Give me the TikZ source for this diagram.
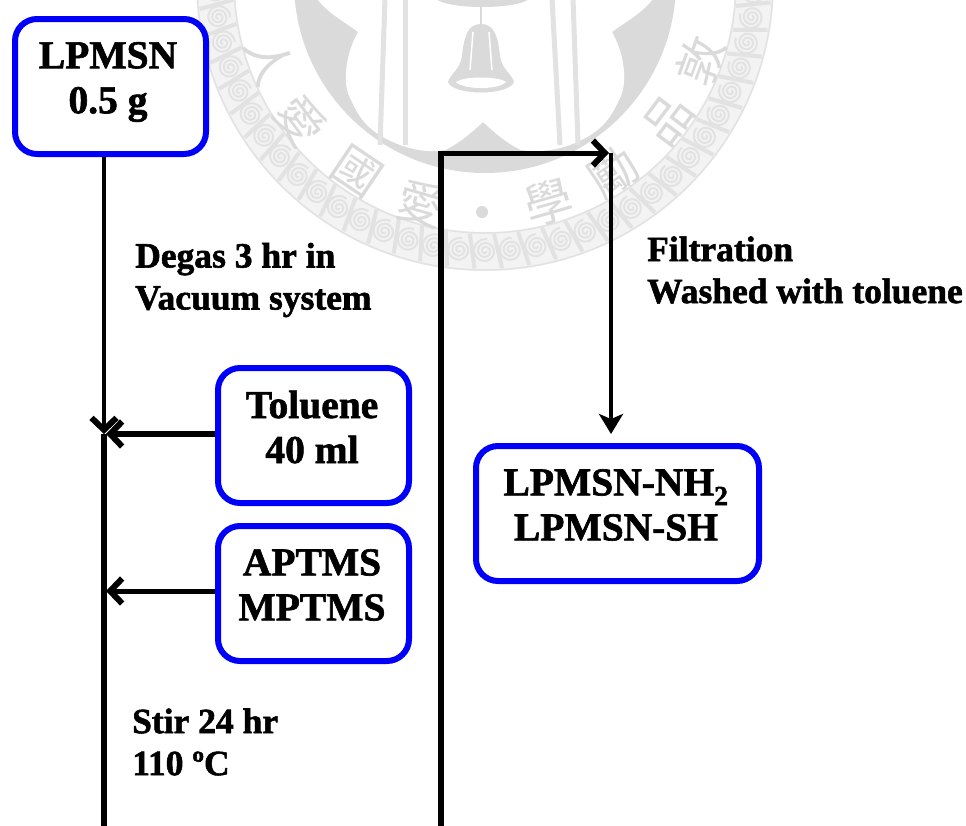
\documentclass[tikz,border=0pt]{standalone}
\usepackage{fontspec}
\setmainfont{Liberation Serif}[BoldFeatures={FakeBold=1.6}]
\newfontfamily\cjkfont{Noto Sans CJK TC}
\usetikzlibrary{arrows.meta,calc}
\definecolor{boxblue}{RGB}{0,0,250}
\definecolor{wmdark}{RGB}{218,218,218}
\definecolor{wmmid}{RGB}{226,226,226}
\definecolor{wmlight}{RGB}{243,243,243}
\tikzset{
  x=1pt,y=-1pt,
  boxnode/.style={draw=boxblue,line width=6pt,rounded corners=22pt,fill=white,minimum width=191pt,minimum height=135pt,inner sep=0pt,anchor=north west},
  boxtext/.style={font=\fontsize{39.5}{45}\selectfont\bfseries,align=center,inner sep=0pt,text=black},
  note/.style={font=\fontsize{35.5}{42}\selectfont\bfseries,align=left,inner sep=0pt,anchor=west,text=black},
  flow/.style={draw=black,line width=6pt,line cap=butt},
  flowtip/.style={flow,-{Straight Barb[length=12pt,width=25pt,line width=6pt]}},
  sealchar/.style={font=\fontsize{48}{48}\selectfont\cjkfont,text=wmdark,inner sep=0pt},
}
\newcommand{\sealspiral}[1]{%
  \begin{scope}[shift={({485+269*sin(#1)},{-18+269*cos(#1)})},rotate=#1]
    \draw[wmmid,line width=2pt] plot[domain=0:1000,samples=70,smooth] ({(1+\x/1000*11)*cos(\x)},{(1+\x/1000*11)*sin(\x)});
    \draw[wmmid,line width=4pt] (9,-17) -- (17,17);
  \end{scope}}
\begin{document}
\begin{tikzpicture}
\useasboundingbox (0,0) rectangle (966,825);
\fill[white] (0,0) rectangle (966,825);
\begin{scope}
  \clip (0,0) rectangle (966,825);
  % watermark seal
  \fill[wmlight,even odd rule] (485,-18) circle[radius=289] (485,-18) circle[radius=250];
  \foreach \t in {-99,-93.5,...,100}{\sealspiral{\t}}
  \draw[wmmid,line width=1.5pt] (485,-18) circle[radius=288];
  \draw[wmmid,line width=1.5pt] (485,-18) circle[radius=251];
  \fill[wmdark] (485,-18) circle[radius=191];
  \fill[white] (316,-2) .. controls (330,15) and (345,22) .. (358,32)
     .. controls (345,55) and (342,85) .. (351,100)
     .. controls (362,125) and (375,135) .. (400,145)
     .. controls (420,152) and (435,152) .. (445,150)
     .. controls (460,143) and (472,132) .. (483,122)
     .. controls (494,132) and (506,143) .. (521,150)
     .. controls (531,152) and (550,152) .. (570,145)
     .. controls (595,135) and (608,125) .. (619,100)
     .. controls (628,85) and (625,55) .. (612,32)
     .. controls (625,22) and (640,15) .. (654,-2) -- cycle;
  % poles
  \foreach \a/\b in {385/380,405/405,552/560,573/578}{
    \draw[wmmid,line width=5pt] (\a,-2) -- (\b,145);
  }
  % top ornament and bell
  \fill[wmdark] (435,-2) .. controls (445,10) and (520,10) .. (530,-2) -- cycle;
  \draw[wmdark,line width=2pt] (481,5) -- (481,24);
  \fill[wmdark] (481,24) .. controls (468,24) and (464,36) .. (462,56)
     .. controls (460,70) and (450,74) .. (448,82)
     .. controls (453,96) and (509,96) .. (514,82)
     .. controls (512,74) and (502,70) .. (500,56)
     .. controls (498,36) and (494,24) .. (481,24) -- cycle;
  \fill[white] (456,82) .. controls (463,90) and (499,90) .. (506,82) .. controls (498,76) and (464,76) .. (456,82) -- cycle;
  \draw[white,line width=1.5pt] (473,32) -- (470,70) (489,32) -- (492,70);
  % motto
  \node[sealchar,rotate=-70] (c1) at ({485+229*sin(-70)},{-18+229*cos(-70)}) {人};
  \node[sealchar,rotate=-53] (c2) at ({485+231*sin(-53)},{-18+231*cos(-53)}) {愛};
  \node[sealchar,rotate=-34] (c3) at ({485+229*sin(-34)},{-18+229*cos(-34)}) {國};
  \node[sealchar,rotate=-16] (c4) at ({485+231*sin(-16)},{-18+231*cos(-16)}) {愛};
  \fill[wmdark] (482,212) circle[radius=6];
  \node[sealchar,rotate=16] (c5) at ({485+229*sin(16)},{-18+229*cos(16)}) {學};
  \node[sealchar,rotate=34] (c6) at ({485+229*sin(34)},{-18+229*cos(34)}) {勵};
  \node[sealchar,rotate=53] (c7) at ({485+229*sin(53)},{-18+229*cos(53)}) {品};
  \node[sealchar,rotate=70] (c8) at ({485+229*sin(70)},{-18+229*cos(70)}) {敦};
\end{scope}

% boxes
\node[boxnode] (lpmsn) at (12,16) {};
\node[boxnode] (tol) at (215,365) {};
\node[boxnode] (apt) at (215,523) {};
\node[boxnode,minimum width=283pt] (prod) at (473,443) {};
\node[boxtext] (lpmsntxt) at (108,82) {LPMSN\\0.5 g};
\node[boxtext] (toltxt) at (312,427) {Toluene\\40 ml};
\node[boxtext] (apttxt) at (312,585) {APTMS\\MPTMS};
\node[boxtext] (prodtxt) at (616,505) {LPMSN-NH\textsubscript{2}\\LPMSN-SH};

% coordinates
\coordinate (j1) at (101,432);
\coordinate (bl) at (104,826);
\coordinate (j3) at (104,434);
\coordinate (j2) at (106,591);
\coordinate (br) at (441,826);
\coordinate (tl) at (441,153);
\coordinate (tr) at (611,153);

% connectors
\draw[flowtip,line width=4.5pt] (lpmsn.south -| j1) ++(3,0) -- (j3);
\draw[flow] (j3) -- (bl);
\draw[flowtip] (tol.west |- j3) -- ($(j3)+(2,0)$);
\draw[flowtip,line width=5pt] (apt.west |- j2) -- (j2);
\draw[flow] (br) -- (tl);
\draw[flowtip,line width=5pt] ($(tl)+(-3,0)$) -- ($(tr)+(-2,0)$);
\draw[draw=black,line width=4.5pt,-{Stealth[length=20pt,width=24pt,inset=5pt]}] (tr) -- (tr |- 0,434);

% notes
\node[note] (n1) at (135,280) {Degas 3 hr in\\Vacuum system};
\node[note] (n2) at (647,270) {Filtration\\Washed with toluene};
\node[note] (n3) at (132,742) {Stir 24 hr\\110 ºC};
\end{tikzpicture}
\end{document}
